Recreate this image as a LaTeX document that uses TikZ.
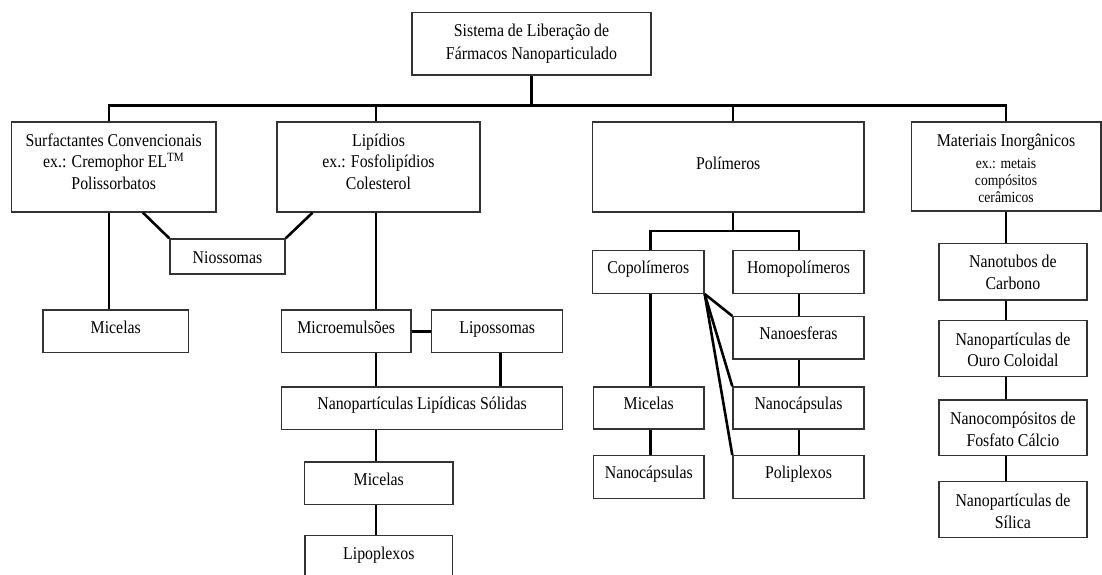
\documentclass[tikz,border=0pt]{standalone}
\usepackage{fontspec}
\setmainfont{Liberation Serif}[FakeStretch=0.88]
\usetikzlibrary{fit}
\newcommand\mainsz{\fontsize{18}{21.5}\selectfont}
\newcommand\smallsz{\fontsize{15.5}{17}\selectfont}
\tikzset{
  bx/.style={draw=black!80, line width=1.4pt, inner sep=0pt, fill=none},
  txt/.style={inner sep=0pt, anchor=base, align=center, font=\mainsz},
  conn/.style={line width=2.6pt, draw=black, line join=miter},
}
% \mybox{name}{x1}{y1}{x2}{y2}{baseline of last line}{text}
\newcommand\mybox[7]{%
  \node[bx, fit={(#2,#3) (#4,#5)}] (#1) {};
  \node[txt] (#1-t) at ({(#2+#4)/2},#6) {#7};
}
\begin{document}
\begin{tikzpicture}[x=1pt,y=-1pt]
\clip (0,0) rectangle (1102,574);
\fill[white] (0,0) rectangle (1102,574);

\mybox{top}{412}{12.7}{651}{75}{59}{Sistema de Liberação de\\[1.5pt]Fármacos Nanoparticulado}
\mybox{surf}{11.4}{122}{216}{212}{189}{Surfactantes Convencionais\\ex.: Cremophor EL\textsuperscript{TM}\\Polissorbatos}
\mybox{lip}{277}{122}{480}{212}{189}{Lipídios\\ex.: Fosfolipídios\\Colesterol}
\mybox{pol}{592.5}{122}{864}{212}{169}{Polímeros}
\node[bx, fit={(911.7,122) (1101,211)}] (mat) {};
\node[txt] (mat-t1) at (1006,146) {Materiais Inorgânicos};
\node[txt, font=\smallsz] (mat-t2) at (1006,202) {ex.: metais\\compósitos\\cerâmicos};

\mybox{nio}{170}{239}{285}{274}{263}{Niossomas}
\mybox{mica}{43}{310}{188.6}{352.7}{333}{Micelas}
\mybox{micro}{281.4}{310}{411}{352.7}{333}{Microemulsões}
\mybox{lipo}{431.7}{310}{562.7}{352.7}{333}{Lipossomas}
\mybox{nls}{281.4}{387}{562.7}{429.3}{409}{Nanopartículas Lipídicas Sólidas}
\mybox{micb}{304.6}{462}{453}{504.7}{485}{Micelas}
\mybox{lplx}{305}{535.7}{452.7}{590}{559}{Lipoplexos}

\mybox{copo}{592.5}{250.7}{704}{293.3}{273}{Copolímeros}
\mybox{homo}{733}{250.7}{864}{293.3}{273}{Homopolímeros}
\mybox{nesf}{733}{316.7}{864}{359}{339}{Nanoesferas}
\mybox{micc}{593.6}{387}{704}{429}{409}{Micelas}
\mybox{ncapb}{733}{387}{864}{429}{409}{Nanocápsulas}
\mybox{ncapa}{593.6}{455.7}{704}{498.3}{478}{Nanocápsulas}
\mybox{polx}{733}{455.7}{864}{498.3}{478}{Poliplexos}

\mybox{ntub}{939}{243.7}{1086.8}{300}{289}{Nanotubos de\\Carbono}
\mybox{ouro}{939}{320.7}{1086.8}{376.3}{366.7}{Nanopartículas de\\Ouro Coloidal}
\mybox{fosf}{939}{400}{1086.8}{455.7}{446}{Nanocompósitos de\\Fosfato Cálcio}
\mybox{sil}{939}{481.7}{1086.8}{537.7}{528}{Nanopartículas de\\Sílica}

% main bus
\coordinate (bL) at (109,105.7);
\coordinate (bLip) at (376,105.7);
\coordinate (bPol) at (733,105.7);
\coordinate (bR) at (1006,105.7);
\draw[conn] (top.south) -- (top.south |- bL);
\draw[conn] (bL |- surf.north) -- (bL) -- (bR) -- (bR |- mat.north);
\draw[conn] (bLip) -- (bLip |- lip.north);
\draw[conn] (bPol) -- (bPol |- pol.north);

% surfactantes / lipidios
\draw[conn] (bL |- surf.south) -- (bL |- mica.north);
\draw[conn] (143,0 |- surf.south) -- (nio.north west);
\draw[conn] (312.5,0 |- lip.south) -- (nio.north east);
\draw[conn] (bLip |- lip.south) -- (bLip |- micro.north);
\draw[conn] (micro.east) -- (lipo.west);
\draw[conn] (bLip |- micro.south) -- (bLip |- nls.north);
\draw[conn] (500.3,0 |- lipo.south) -- (500.3,0 |- nls.north);
\draw[conn] (bLip |- nls.south) -- (bLip |- micb.north);
\draw[conn] (bLip |- micb.south) -- (bLip |- lplx.north);

% polimeros
\coordinate (sbL) at (650.7,231);
\coordinate (sbR) at (799,231);
\draw[conn] (bPol |- pol.south) -- (bPol |- sbL);
\draw[conn] (sbL |- copo.north) -- (sbL) -- (sbR) -- (sbR |- homo.north);
\draw[conn] (sbL |- copo.south) -- (sbL |- micc.north);
\draw[conn] (sbL |- micc.south) -- (sbL |- ncapa.north);
\draw[conn] (sbR |- homo.south) -- (sbR |- nesf.north);
\draw[conn] (sbR |- nesf.south) -- (sbR |- ncapb.north);
\draw[conn] (sbR |- ncapb.south) -- (sbR |- polx.north);
\draw[conn] (copo.south east) -- (nesf.north west);
\draw[conn] (copo.south east) -- (ncapb.north west);
\draw[conn] (copo.south east) -- (polx.north west);

% inorganicos
\draw[conn] (bR |- mat.south) -- (bR |- ntub.north);
\draw[conn] (bR |- ntub.south) -- (bR |- ouro.north);
\draw[conn] (bR |- ouro.south) -- (bR |- fosf.north);
\draw[conn] (bR |- fosf.south) -- (bR |- sil.north);
\end{tikzpicture}
\end{document}
